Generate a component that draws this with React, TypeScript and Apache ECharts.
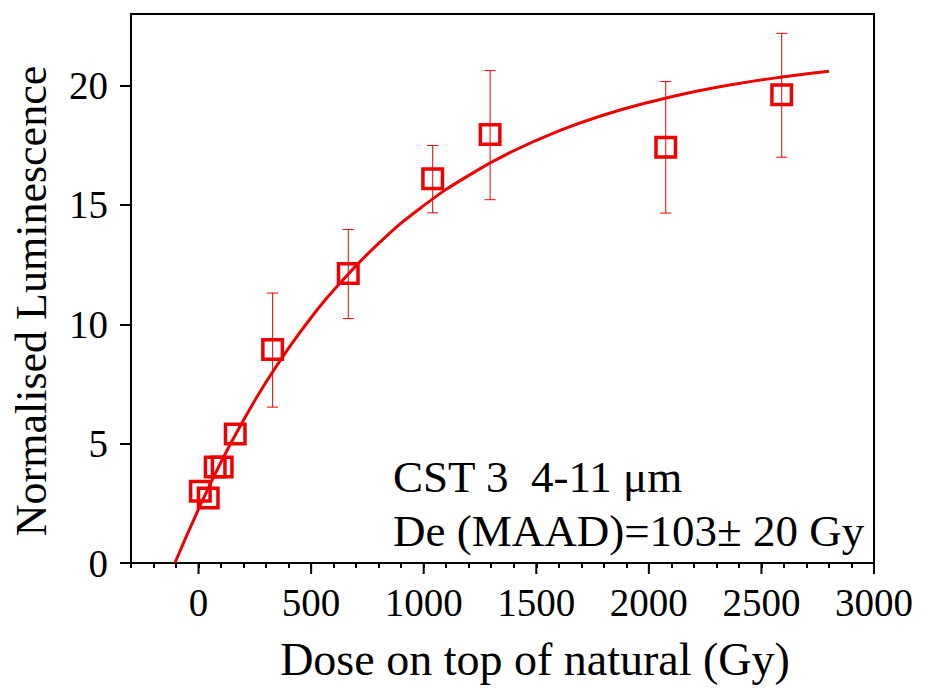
import React, { useEffect, useRef } from 'react';
import * as echarts from 'echarts';

// Measured points (dose on top of natural, Gy) and normalised luminescence
const doseGy = [8, 43, 74, 105, 163, 329, 665, 1040, 1295, 2075, 2590];
const lum = [3.01, 2.72, 4.02, 4.02, 5.4, 8.94, 12.13, 16.1, 17.95, 17.42, 19.62];
const errLow = [null, null, null, null, null, 6.53, 10.24, 14.67, 15.22, 14.66, 17.0];
const errHigh = [null, null, null, null, null, 11.31, 13.97, 17.49, 20.63, 20.17, 22.19];

// Saturating-exponential fit curve
const fitDose = [-105, 0, 100, 200, 300, 400, 500, 600, 800, 1000, 1200, 1400, 1600, 1800, 2000, 2200, 2400, 2600, 2800];
const fitLum = [0, 2.26, 4.23, 5.99, 7.58, 9.0, 10.28, 11.43, 13.39, 14.97, 16.24, 17.27, 18.1, 18.77, 19.3, 19.74, 20.09, 20.37, 20.6];

const xMajorTicks = [0, 500, 1000, 1500, 2000, 2500, 3000];
const yTicks = [0, 5, 10, 15, 20];

const annotationLines = ['CST 3  4-11 μm', 'De (MAAD)=103± 20 Gy'];
const xTitle = 'Dose on top of natural (Gy)';
const yTitle = 'Normalised Luminescence';

const RED = '#ee0000';
const FONT = "'Liberation Serif', 'Times New Roman', serif";

export default function App() {
  const ref = useRef<HTMLDivElement>(null);

  useEffect(() => {
    if (!ref.current) return;
    const chart = echarts.init(ref.current, undefined, { renderer: 'svg' });

    const scatterData = doseGy.map((x, i) => [x, lum[i]]);
    const errData = doseGy
      .map((x, i) => [x, errLow[i], errHigh[i]])
      .filter((r) => r[1] != null && r[2] != null);
    const fitData = fitDose.map((x, i) => [x, fitLum[i]]);
    const majorData = xMajorTicks.map((v) => [v, 0]);

    chart.setOption({
      animation: false,
      backgroundColor: '#fff',
      grid: {
        left: 131,
        right: 51,
        top: 14,
        bottom: 125,
        show: true,
        borderColor: '#000',
        borderWidth: 2,
        backgroundColor: 'transparent',
      },
      xAxis: {
        type: 'value',
        min: -300,
        max: 3000,
        interval: 100,
        splitLine: { show: false },
        axisLine: { show: true, onZero: false, lineStyle: { color: '#000', width: 2 } },
        axisTick: { show: true, length: 5, lineStyle: { color: '#000', width: 2 } },
        axisLabel: {
          color: '#000',
          fontSize: 39,
          fontFamily: FONT,
          margin: 20,
          formatter: (v: number) => (Math.round(v) % 500 === 0 ? String(Math.round(v)) : ''),
        },
      },
      yAxis: {
        type: 'value',
        min: 0,
        max: 23,
        interval: 5,
        splitLine: { show: false },
        axisLine: { show: true, onZero: false, lineStyle: { color: '#000', width: 2 } },
        axisTick: { show: true, length: 11, customValues: yTicks, lineStyle: { color: '#000', width: 2 } },
        axisLabel: {
          color: '#000',
          fontSize: 39,
          fontFamily: FONT,
          margin: 23,
          customValues: yTicks,
          formatter: (v: number) => (Math.round(v) % 5 === 0 && v <= 20 ? String(Math.round(v)) : ''),
        },
      },
      graphic: [
        {
          type: 'text',
          x: 393,
          y: 477,
          style: { text: annotationLines[0], font: `45px ${FONT}`, fill: '#000', align: 'left', verticalAlign: 'middle' },
        },
        {
          type: 'text',
          x: 393,
          y: 531,
          style: { text: annotationLines[1], font: `45px ${FONT}`, fill: '#000', align: 'left', verticalAlign: 'middle' },
        },
        {
          type: 'text',
          x: 535,
          y: 659,
          style: { text: xTitle, font: `46px ${FONT}`, fill: '#000', align: 'center', verticalAlign: 'middle' },
        },
        {
          type: 'text',
          x: 31,
          y: 301,
          rotation: Math.PI / 2,
          style: { text: yTitle, font: `44px ${FONT}`, fill: '#000', align: 'center', verticalAlign: 'middle' },
        },
      ],
      series: [
        {
          type: 'line',
          data: fitData,
          smooth: true,
          showSymbol: false,
          symbol: 'none',
          lineStyle: { color: RED, width: 3 },
          z: 2,
          silent: true,
        },
        {
          type: 'custom',
          data: errData,
          encode: { x: 0, y: [1, 2] },
          z: 3,
          silent: true,
          renderItem: (params: any, api: any) => {
            const x = api.value(0);
            const pLo = api.coord([x, api.value(1)]);
            const pHi = api.coord([x, api.value(2)]);
            const cap = 5.5;
            const style = { stroke: RED, lineWidth: 1 };
            return {
              type: 'group',
              children: [
                { type: 'line', shape: { x1: pLo[0], y1: pLo[1], x2: pHi[0], y2: pHi[1] }, style },
                { type: 'line', shape: { x1: pLo[0] - cap, y1: pLo[1], x2: pLo[0] + cap, y2: pLo[1] }, style },
                { type: 'line', shape: { x1: pHi[0] - cap, y1: pHi[1], x2: pHi[0] + cap, y2: pHi[1] }, style },
              ],
            };
          },
        },
        {
          type: 'scatter',
          data: scatterData,
          symbol: 'rect',
          symbolSize: 19.5,
          itemStyle: { color: 'rgba(0,0,0,0)', borderColor: RED, borderWidth: 3.5, opacity: 1 },
          z: 4,
          silent: true,
        },
        {
          type: 'custom',
          data: majorData,
          clip: false,
          silent: true,
          z: 5,
          renderItem: (params: any, api: any) => {
            const p = api.coord([api.value(0), 0]);
            return {
              type: 'line',
              shape: { x1: p[0], y1: p[1], x2: p[0], y2: p[1] + 11 },
              style: { stroke: '#000', lineWidth: 2 },
            };
          },
        },
      ],
    });

    return () => chart.dispose();
  }, []);

  return (
    <div
      ref={ref}
      style={{ position: 'fixed', left: 0, top: 0, width: 925, height: 688, background: '#fff' }}
    />
  );
}
